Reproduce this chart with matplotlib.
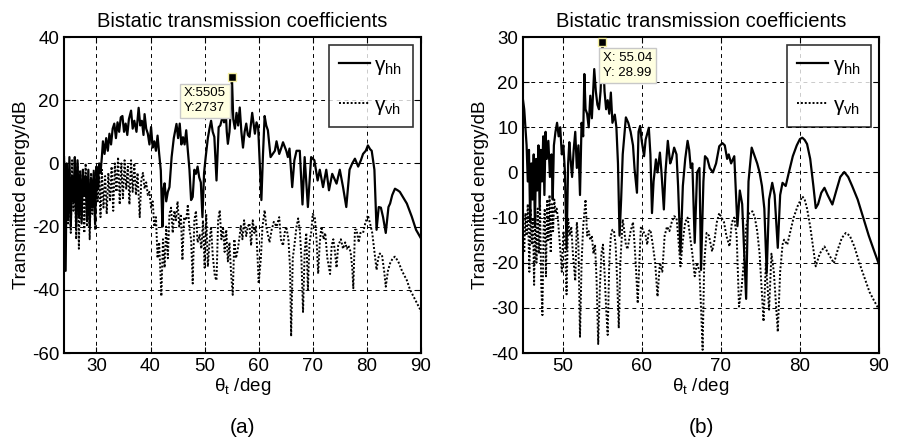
import numpy as np
import matplotlib
matplotlib.use('Agg')
import matplotlib.pyplot as plt

plt.rcParams['font.family'] = ['Liberation Sans', 'DejaVu Sans']
plt.rcParams['axes.unicode_minus'] = False
plt.rcParams['mathtext.fontset'] = 'custom'
plt.rcParams['mathtext.rm'] = 'Liberation Sans'
plt.rcParams['mathtext.it'] = 'Liberation Sans'

### (a) gamma_hh ###
a_hh_x = [24.0, 24.3, 24.5, 24.75, 25.0, 25.25, 25.5, 25.75, 26.0, 26.25, 26.5, 26.75, 27.0, 27.25,
          27.5, 27.75, 28.0, 28.25, 28.5, 28.75, 29.0, 29.25, 29.5, 29.75, 30.0, 30.25, 30.5, 30.75,
          31.0, 31.2, 31.5, 31.8, 32.1, 32.4, 32.7, 33.0, 33.3, 33.6, 33.9, 34.2, 34.5, 34.8, 35.1,
          35.4, 35.7, 36.0, 36.4, 36.7, 37.0, 37.4, 37.8, 38.1, 38.4, 38.7, 38.9, 39.2, 39.5, 39.8,
          40.1, 40.4, 40.7, 41.0, 41.3, 41.6, 41.9, 42.2, 42.4, 42.6, 42.9, 43.2, 43.5, 43.9, 44.3,
          44.8, 45.1, 45.4, 45.7, 46.0, 46.3, 46.6, 46.9, 47.2, 47.5, 47.8, 48.1, 48.4, 48.7, 49.0,
          49.3, 49.6, 49.9, 50.2, 50.6, 50.9, 51.2, 51.5, 51.8, 52.2, 52.6, 52.9, 53.2, 53.4, 53.6,
          53.8, 54.1, 54.3, 54.6, 54.8, 55.05, 55.3, 55.6, 55.9, 56.2, 56.5, 56.8, 57.1, 57.4, 57.7,
          58.0, 58.3, 58.8, 59.3, 59.6, 59.9, 60.2, 60.5, 60.8, 61.1, 61.4, 61.7, 62.2, 62.6, 63.0,
          63.3, 63.8, 64.2, 64.5, 65.1, 65.4, 65.7, 66.2, 66.6, 67.0, 67.6, 68.1, 68.5, 69.1, 69.7,
          70.3, 70.9, 71.3, 71.9, 72.5, 73.0, 73.6, 74.4, 75.0, 75.6, 76.2, 76.8, 77.3, 77.8, 78.4,
          78.9, 79.3, 79.8, 80.2, 80.6, 80.9, 81.4, 81.8, 82.2, 82.6, 83.0, 83.5, 84.0, 84.3, 84.7,
          85.2, 85.7, 86.1, 86.8, 87.4, 88.3, 89.1, 90.0]
a_hh_y = [2, -34, 0, -18, 2, -20, -4, -12, 2, -20, 1, -17, -3, -19,
          -2, -10, -4, -18, -2, -20, -5, -14, -3, -19, -1, -8, 0, -3,
          2, 7, 3, 8, 4, 9.4, 6, 11, 12.6, 8, 13, 10, 14.6, 15, 10,
          12.6, 9, 14, 16.7, 11, 13.5, 10, 17.6, 12, 13.5, 9, 15.6, 11, 9.4, 6,
          11.5, 5, 7, 4, 8.8, 3, -2.2, -20, -8, -6.3, -12, -9, -7.5, 2, 8,
          12.5, 8, 12.6, 6, 8.3, 6, 10.5, 4, -2, -11.6, -10.6, -2, -3.3, -1, -4.4,
          -6, -17, -3, 2, 8, 11, 13.5, 10, 8.4, -5.4, 11.5, 12, 14, 15.6, 13,
          20, 10, 6.2, 10, 16, 27.4, 14, 11, 16, 12, 17.7, 10, 5, 10, 12.6,
          9, 8.4, 16, 9.4, 13, 11.5, 0, -11.6, 3, 15, 12, 10.5, 2, 3, 4,
          7, 3, 5, 6.7, 4, 2, 4.7, -7.5, 1, 4, 4, -13, 2, -13.8, 2,
          1, -5.4, -2, -7.5, -2, -8.5, -3.3, -6.4, -2, -7.5, -13.8, -2, 0, 1.5, -1,
          1, 3, 4, 5.7, 4.5, 4, -2, -21, -13.8, -14, -17, -22, -13.8, -12.7, -10,
          -8, -8.5, -9, -11, -12.7, -16.8, -21, -23.7]

### (a) gamma_vh ###
a_vh_x = [24.0, 24.25, 24.5, 24.75, 25.0, 25.25, 25.5, 25.75, 26.0, 26.25, 26.5, 26.75, 27.0, 27.25,
          27.5, 27.75, 28.0, 28.25, 28.5, 28.75, 29.0, 29.25, 29.5, 29.75, 30.0, 30.25, 30.5, 30.75,
          31.0, 31.3, 31.6, 31.9, 32.2, 32.5, 32.8, 33.1, 33.4, 33.7, 34.0, 34.3, 34.6, 34.9, 35.2,
          35.5, 35.8, 36.1, 36.4, 36.7, 37.0, 37.3, 37.6, 38.0, 38.3, 38.6, 38.9, 39.2, 39.5, 39.8,
          40.1, 40.4, 40.7, 41.0, 41.3, 41.6, 42.0, 42.3, 42.6, 42.9, 43.2, 43.5, 43.8, 44.1, 44.4,
          44.7, 45.0, 45.3, 45.6, 45.9, 46.2, 46.6, 46.9, 47.2, 47.5, 47.8, 48.1, 48.4, 48.7, 49.1,
          49.4, 49.7, 50.0, 50.3, 50.6, 50.9, 51.2, 51.5, 51.9, 52.2, 52.5, 52.8, 53.1, 53.4, 53.7,
          54.0, 54.3, 54.6, 54.9, 55.2, 55.5, 55.8, 56.1, 56.4, 56.7, 57.0, 57.3, 57.7, 58.0, 58.3,
          58.6, 58.9, 59.2, 59.5, 59.8, 60.0, 60.4, 60.7, 61.1, 61.4, 62.0, 62.4, 62.8, 63.3, 63.8,
          64.1, 64.5, 64.8, 65.1, 65.5, 65.8, 66.0, 66.3, 66.6, 67.0, 67.3, 67.6, 67.9, 68.2, 68.5,
          68.8, 69.1, 69.4, 69.7, 70.0, 70.4, 70.7, 71.0, 71.3, 71.6, 72.0, 72.3, 72.7, 73.2, 73.5,
          73.8, 74.1, 74.4, 74.7, 75.2, 75.6, 76.0, 76.3, 76.6, 77.0, 77.3, 77.5, 77.8, 78.1, 78.5,
          78.8, 79.3, 79.7, 80.2, 80.6, 81.0, 81.4, 81.8, 82.1, 82.4, 82.8, 83.2, 83.5, 83.9, 84.3,
          84.8, 85.2, 85.8, 86.5, 87.4, 88.0, 88.6, 89.2, 89.8, 90.0]
a_vh_y = [2, -10, 0, -19, -2, -22, 1, -15, -3, -24, 0, -27, -2, -18,
          -4, -22, 0, -20, -5, -24, -3, -16, -2, -21, -6, -12, -4, -17,
          -2, -14, -4, -16, -3, -12, -1, -15, 0, -9, 2, -13, 0, -11, 1,
          -8, -1, -13, 1, -9, 0, -10, -3, -17, -5, -3, -8, -6, -10, -9,
          -14, -12, -20, -17, -30, -25, -42, -24, -33, -20, -30, -16, -14, -22, -15,
          -18, -12, -20, -16, -30.6, -17, -18, -13, -21, -24, -38, -18, -15, -25, -22.6,
          -27, -18, -33, -16, -32.7, -25, -20, -29, -35.8, -37, -18, -14.8, -24, -20, -28,
          -21, -31, -25, -35, -41.6, -24, -30, -27.6, -24, -19.8, -24, -18, -23, -20, -19,
          -26, -18, -22, -20, -30, -38, -30, -20, -14.8, -20, -25, -21, -18.5, -20, -17,
          -24, -26, -22, -20, -24, -33, -54.7, -30, -26, -20, -17.4, -21, -30, -47, -28,
          -22, -40, -25, -22, -16, -17.4, -24, -34.9, -25, -20, -24, -22, -30, -35, -26,
          -24, -28, -33, -26, -24, -27, -25, -27, -26, -28, -33, -39.5, -21, -21, -25,
          -22, -22, -19, -16.4, -19, -22, -28, -33.7, -30, -28.5, -29, -34, -39, -34, -31.6,
          -30, -29.5, -31, -34, -37, -40, -42, -44, -46, -47]

### (b) gamma_hh ###
b_hh_x = [45.0, 45.15, 45.3, 45.45, 45.6, 45.75, 45.9, 46.05, 46.2, 46.35, 46.5, 46.65, 46.8, 46.95,
          47.1, 47.25, 47.4, 47.55, 47.7, 47.85, 48.0, 48.2, 48.4, 48.6, 48.75, 48.9, 49.1, 49.3,
          49.5, 49.7, 49.9, 50.1, 50.3, 50.5, 50.7, 50.85, 51.0, 51.2, 51.4, 51.6, 51.8, 52.0, 52.2,
          52.4, 52.6, 52.75, 52.9, 53.1, 53.3, 53.5, 53.7, 54.0, 54.2, 54.4, 54.6, 54.8, 55.04, 55.3,
          55.5, 55.7, 55.9, 56.1, 56.3, 56.6, 56.8, 57.0, 57.2, 57.4, 57.6, 57.8, 58.0, 58.3, 58.6,
          58.9, 59.1, 59.4, 59.6, 59.8, 60.0, 60.3, 60.5, 60.9, 61.1, 61.3, 61.5, 61.8, 62.0, 62.3,
          62.5, 62.8, 63.0, 63.3, 63.6, 63.8, 64.1, 64.4, 64.6, 64.9, 65.2, 65.5, 65.8, 66.0, 66.2,
          66.4, 66.7, 67.0, 67.3, 67.5, 67.8, 68.0, 68.3, 68.6, 69.0, 69.4, 69.8, 70.2, 70.5, 70.8,
          71.0, 71.3, 71.7, 72.1, 72.4, 72.7, 73.2, 73.5, 73.9, 74.2, 74.6, 74.9, 75.2, 75.5, 75.8,
          76.1, 76.5, 76.8, 77.2, 77.5, 77.8, 78.2, 78.6, 79.1, 79.6, 80.0, 80.3, 80.6, 80.9, 81.3,
          81.7, 82.0, 82.3, 82.7, 83.1, 83.5, 84.1, 84.6, 85.1, 85.6, 86.1, 86.6, 87.3, 88.0, 88.7,
          89.4, 90.0]
b_hh_y = [16, 14, 10, 6, -2, 5, -11, 2, -6, 4, -12, 3, -4, 6,
          -8, 5, -2, 8, -5, 9, 3, 7, -1, 4, -6, 6, 9, 11,
          8, 10, 4, 6, 0, -17, 2, 6.7, 3, -1, 5, 9, 1, 6, -5,
          11, 8, 21.8, 14, 13, 10, 17, 12, 22.9, 18, 15, 14, 18, 29, 18,
          14, 16, 13, 17.7, 11, 12.8, 10, 2, -14, -6, 4, 8, 12.2, 11, 9,
          6, 0.7, -4.5, 9, 10.3, 7, 3.6, 7.3, 9.9, 4, -9, -2, 2.9, 0, 4.4,
          0, -8.2, 0, 7, 2, 3, 5.5, 4, -3, -17.8, -3, 3, 7, 5, 1,
          2, -15.6, 0, 1, -21.6, -2, 3.6, 3, 1, 0, 2, 5.8, 6.5, 6, 3,
          4, 2, 3.6, -11.9, -4, -7, -28, -2, 5.5, 4, 2, 0, -3, -8, -22.3,
          -6, -2.3, -5, -16.7, -5, -2.3, -3, 0, 3.6, 6, 7.4, 7.7, 7.2, 6.3, 3,
          -3, -7.9, -7, -4.5, -3.4, -5, -7.1, -4, -1, 0.1, -1, -3, -6, -10, -14,
          -17.5, -20.4]

### (b) gamma_vh ###
b_vh_x = [45.0, 45.15, 45.3, 45.45, 45.6, 45.8, 45.95, 46.1, 46.25, 46.4, 46.55, 46.7, 46.85, 47.0,
          47.15, 47.3, 47.45, 47.6, 47.75, 47.9, 48.05, 48.2, 48.35, 48.5, 48.65, 48.8, 48.95, 49.1,
          49.25, 49.4, 49.7, 49.9, 50.1, 50.3, 50.5, 50.7, 50.9, 51.1, 51.3, 51.6, 51.8, 52.0, 52.2,
          52.4, 52.6, 52.9, 53.1, 53.3, 53.5, 53.7, 53.9, 54.1, 54.3, 54.5, 54.7, 54.9, 55.1, 55.3,
          55.5, 55.7, 55.9, 56.1, 56.3, 56.5, 56.7, 56.9, 57.1, 57.3, 57.6, 57.8, 58.0, 58.2, 58.4,
          58.6, 58.9, 59.1, 59.3, 59.5, 59.7, 59.9, 60.1, 60.3, 60.5, 60.7, 60.9, 61.1, 61.4, 61.7,
          62.0, 62.3, 62.6, 62.9, 63.2, 63.5, 63.8, 64.1, 64.4, 64.6, 64.9, 65.2, 65.5, 65.8, 66.1,
          66.4, 66.7, 67.0, 67.3, 67.5, 67.7, 67.9, 68.2, 68.5, 68.9, 69.2, 69.5, 69.8, 70.1, 70.4,
          70.7, 71.1, 71.4, 71.7, 72.0, 72.3, 72.6, 72.9, 73.2, 73.6, 74.0, 74.3, 74.6, 74.9, 75.1,
          75.4, 75.7, 76.1, 76.4, 76.7, 77.0, 77.2, 77.5, 77.8, 78.0, 78.4, 78.8, 79.2, 79.7, 80.1,
          80.3, 80.6, 80.9, 81.3, 81.7, 82.0, 82.5, 83.1, 83.6, 84.3, 84.8, 85.3, 85.8, 86.3, 86.9,
          87.5, 88.2, 88.8, 89.4, 90.0]
b_vh_y = [-12, -17.8, -9, -14, -7, -22, -8, -16, -10, -24.9, -9, -20, -8, -18,
          -7, -25, -31.6, -12, -8, -23, -6, -15, -5, -17.8, -7, -13, -6, -9,
          -8, -10, -17, -22, -13, -15, -27, -10, -14, -12, -18, -24, -11, -16, -36.4,
          -20, -12, -6, -14, -13, -15, -14, -18, -16, -24, -38, -26, -18, -16, -22,
          -30, -36, -20, -14, -12.7, -13, -16, -24, -34.5, -20, -10.4, -13, -16, -17, -15,
          -13, -11, -16, -22, -29, -20, -12, -12.5, -13.4, -14, -16, -13, -12.7, -16, -20,
          -27.5, -20, -22, -14, -12, -13, -11, -9.7, -10, -14, -20.8, -15, -11, -10, -14,
          -18, -23, -20, -22, -30, -39.3, -20, -13.4, -14, -17.5, -15, -11, -9, -10, -11,
          -14, -16.4, -11, -10, -14, -29.7, -26, -20, -12, -9, -8.6, -10, -13, -18, -24,
          -33, -20, -30.4, -18, -22, -30, -35.3, -22, -16, -14.9, -16, -13, -10, -7.5, -6,
          -5.3, -6, -8, -12, -17, -20.8, -18, -16.4, -18, -20.1, -17, -14.5, -13.4, -14, -16.5,
          -20, -23.5, -26.5, -28.5, -30.4]

xticks_a = [30, 40, 50, 60, 70, 80, 90]
yticks_a = [-60, -40, -20, 0, 20, 40]
xticks_b = [50, 60, 70, 80, 90]
yticks_b = [-40, -30, -20, -10, 0, 10, 20, 30]

titulo = 'Bistatic transmission coefficients'
ylab = 'Transmitted energy/dB'
xlab = r'$\mathrm{\theta_t}$ /deg'

fig = plt.figure(figsize=(8.99, 4.38), dpi=100)
ax1 = fig.add_axes([0.0712, 0.194, 0.397, 0.7215])
ax2 = fig.add_axes([0.5818, 0.194, 0.396, 0.7215])


def formata(ax, xlim, ylim, xt, yt):
    ax.set_xlim(*xlim)
    ax.set_ylim(*ylim)
    ax.set_xticks(xt)
    ax.set_yticks(yt)
    ax.set_xticklabels([str(v) for v in xt])
    ax.set_yticklabels([str(v) for v in yt])
    ax.grid(True, color='black', ls=(0, (4, 4)), lw=0.7)
    ax.tick_params(direction='in', length=4, labelsize=13.5, top=True, right=True)
    for s in ax.spines.values():
        s.set_linewidth(1.5)
    ax.set_title(titulo, fontsize=14.5, pad=7)
    ax.set_ylabel(ylab, fontsize=13.5, labelpad=1)
    ax.set_xlabel(xlab, fontsize=13.5, labelpad=1)


### Painel (a) ###
ax1.plot(a_hh_x, a_hh_y, color='black', lw=1.6, label=r'$\gamma_{hh}$')
ax1.plot(a_vh_x, a_vh_y, color='black', lw=1.4, ls=(0, (1, 1)), label=r'$\gamma_{vh}$')
formata(ax1, (24, 90), (-60, 40), xticks_a, yticks_a)
ax1.plot([55.05], [27.37], 's', color='black', ms=6, mec='#f5f0a0', zorder=5)
ax1.text(50.0, 19.8, 'X:5505\nY:2737', fontsize=9.5, ha='center', va='center', zorder=6,
         linespacing=1.3, bbox=dict(boxstyle='square,pad=0.3', fc='#ffffe1', ec='#c8c8c8'))

### Painel (b) ###
ax2.plot(b_hh_x, b_hh_y, color='black', lw=1.6, label=r'$\gamma_{hh}$')
ax2.plot(b_vh_x, b_vh_y, color='black', lw=1.4, ls=(0, (1, 1)), label=r'$\gamma_{vh}$')
formata(ax2, (45, 90), (-40, 30), xticks_b, yticks_b)
ax2.plot([55.04], [28.99], 's', color='black', ms=6, mec='#f5f0a0', zorder=5, clip_on=False)
ax2.text(58.2, 23.7, 'X: 55.04\nY: 28.99', fontsize=9.5, ha='center', va='center', zorder=6,
         linespacing=1.3, bbox=dict(boxstyle='square,pad=0.3', fc='#ffffe1', ec='#c8c8c8'))

for ax in (ax1, ax2):
    leg = ax.legend(loc='upper right', fontsize=15, frameon=True, fancybox=False,
                    handlelength=1.5, handletextpad=0.2, borderaxespad=0.4,
                    labelspacing=0.9, borderpad=0.5)
    leg.get_frame().set_edgecolor('black')
    leg.get_frame().set_linewidth(1.2)

fig.text(0.27, 0.012, '(a)', fontsize=15, ha='center')
fig.text(0.78, 0.012, '(b)', fontsize=15, ha='center')

fig.savefig('out.png', dpi=100)
